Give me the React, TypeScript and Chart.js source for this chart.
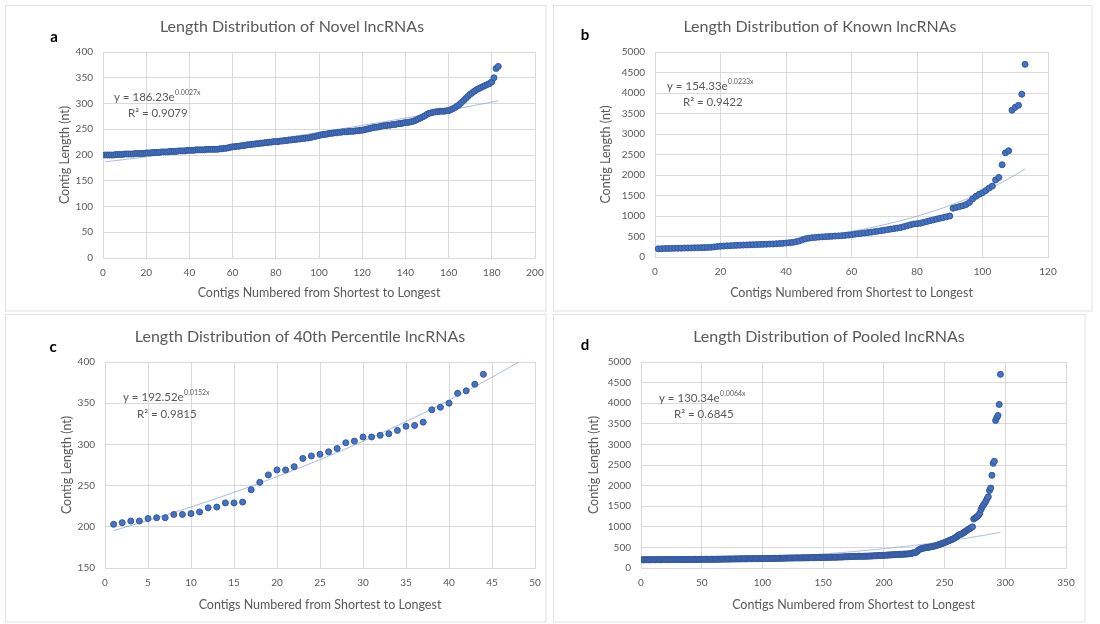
import React, { useEffect, useRef } from "react";
import { Chart, registerables } from "chart.js";
Chart.register(...registerables);

// ---------------- data ----------------
const novelLengths = [
  200, 200, 200, 200, 200, 201, 201, 201, 201, 202,
  202, 202, 202, 202, 203, 203, 203, 203, 203, 204,
  204, 204, 205, 205, 205, 205, 206, 206, 206, 206,
  207, 207, 207, 207, 208, 208, 208, 208, 209, 209,
  209, 209, 210, 210, 210, 210, 210, 211, 211, 211,
  211, 211, 211, 212, 212, 213, 213, 214, 215, 216,
  216, 217, 217, 218, 218, 219, 220, 220, 221, 221,
  222, 222, 223, 223, 224, 224, 225, 225, 226, 226,
  226, 227, 227, 228, 228, 229, 229, 230, 230, 231,
  231, 232, 232, 233, 233, 234, 235, 236, 237, 238,
  239, 240, 240, 241, 242, 242, 243, 243, 244, 244,
  245, 245, 245, 246, 246, 246, 247, 247, 248, 248,
  249, 250, 251, 252, 253, 254, 254, 255, 256, 257,
  257, 258, 258, 259, 259, 260, 261, 261, 262, 263,
  263, 264, 265, 266, 268, 270, 272, 274, 276, 279,
  281, 282, 283, 284, 284, 285, 285, 285, 286, 286,
  288, 290, 292, 295, 298, 302, 306, 310, 314, 318,
  321, 324, 327, 329, 331, 333, 335, 337, 339, 342,
  350, 368, 372,
];

const knownLengths = [
  200, 203, 206, 208, 210, 212, 214, 216, 218, 220,
  222, 224, 226, 228, 230, 232, 236, 245, 255, 262,
  268, 272, 276, 280, 284, 288, 291, 294, 297, 300,
  303, 306, 309, 312, 315, 318, 322, 327, 333, 340,
  348, 356, 370, 390, 420, 445, 460, 470, 478, 485,
  490, 495, 500, 505, 510, 515, 520, 527, 535, 543,
  555, 565, 575, 585, 595, 606, 618, 630, 642, 655,
  667, 680, 692, 705, 720, 740, 760, 785, 805, 812,
  825, 845, 865, 885, 905, 925, 945, 960, 980, 1000,
  1190, 1210, 1230, 1250, 1280, 1330, 1420, 1480, 1530, 1570,
  1620, 1680, 1730, 1880, 1940, 2250, 2540, 2590, 3580, 3650,
  3700, 3970, 4700,
];

const percentile40Lengths = [
  203, 205, 207, 207, 210, 211, 211, 215, 215, 216,
  218, 223, 224, 229, 229, 230, 245, 254, 263, 269,
  269, 273, 283, 286, 288, 291, 295, 302, 304, 309,
  309, 311, 313, 317, 322, 323, 327, 342, 345, 350,
  362, 365, 373, 385,
];

// pooled = novel + known, numbered from shortest to longest
const pooledLengths = [...novelLengths, ...knownLengths].sort((a, b) => a - b);

const panelLetters = ["a", "b", "c", "d"];
const panelTitles = [
  "Length Distribution of Novel lncRNAs",
  "Length Distribution of Known lncRNAs",
  "Length Distribution of 40th Percentile lncRNAs",
  "Length Distribution of Pooled lncRNAs",
];
const xAxisTitle = "Contigs Numbered from Shortest to Longest";
const yAxisTitle = "Contig Length (nt)";

// exponential trendlines shown in the chart: y = A e^(k x)
const trendCoefficients = [186.23, 154.33, 192.52, 130.34];
const trendRates = [0.0027, 0.0233, 0.0152, 0.0064];
const trendCoefLabels = ["186.23", "154.33", "192.52", "130.34"];
const trendRateLabels = ["0.0027x", "0.0233x", "0.0152x", "0.0064x"];
const rSquaredLabels = ["0.9079", "0.9422", "0.9815", "0.6845"];
const trendEnds = [183, 113, 50, 296];

const xMins = [0, 0, 0, 0];
const xMaxs = [200, 120, 50, 350];
const xSteps = [20, 20, 5, 50];
const yMins = [0, 0, 150, 0];
const yMaxs = [400, 5000, 400, 5000];
const ySteps = [50, 500, 50, 500];

const seriesList = [novelLengths, knownLengths, percentile40Lengths, pooledLengths];

// ---------------- layout ----------------
const W = 550;
const H = 312;
const FONT = "Lato, 'Open Sans', sans-serif";
const GRAY = "#595959";
const GRID = "#d9d9d9";
const FRAME = "#e2e2e2";

type Layout = {
  left: number; top: number; right: number; bottom: number;
  ox: number; oy: number;
  titleX: number; titleY: number;
  letterX: number; letterY: number;
  eqX: number; eqY: number; r2X: number; r2Y: number;
  yTitleX: number;
  frame: [number, number, number, number];
};

const layouts: Layout[] = [
  { ox: 0, oy: 0, left: 103, right: 535, top: 52, bottom: 258, titleX: 292, titleY: 27, letterX: 54, letterY: 37, eqX: 114, eqY: 97, r2X: 128, r2Y: 113, yTitleX: 65, frame: [5.5, 5.5, 546, 311] },
  { ox: 550, oy: 0, left: 105, right: 498, top: 52, bottom: 257, titleX: 270, titleY: 27, letterX: 35, letterY: 35, eqX: 117, eqY: 86, r2X: 133, r2Y: 102, yTitleX: 56, frame: [3.5, 5.5, 542, 311] },
  { ox: 0, oy: 312, left: 105, right: 535, top: 50, bottom: 256, titleX: 300, titleY: 25, letterX: 53, letterY: 35, eqX: 123, eqY: 85, r2X: 137, r2Y: 102, yTitleX: 67, frame: [5.5, 2.5, 546, 310] },
  { ox: 550, oy: 312, left: 91, right: 516, top: 50, bottom: 256, titleX: 279, titleY: 25, letterX: 35, letterY: 33, eqX: 109, eqY: 86, r2X: 124, r2Y: 102, yTitleX: 44, frame: [3.5, 2.5, 535, 310] },
];

function makeChart(canvas: HTMLCanvasElement, i: number) {
  const lay = layouts[i];
  const values = seriesList[i];
  const points = values.map((v, idx) => ({ x: idx + 1, y: v }));
  const trend: { x: number; y: number }[] = [];
  for (let x = 1; x <= trendEnds[i]; x += 1) {
    trend.push({ x, y: trendCoefficients[i] * Math.exp(trendRates[i] * x) });
  }
  const tickFont = { family: FONT, size: 10 };
  const axisTitleSize = 12.5;
  const axisTitleFont = { family: FONT, size: axisTitleSize };
  const lh = axisTitleSize * 1.2;

  const extras = {
    id: "extras" + i,
    beforeDraw(chart: any) {
      const ctx = chart.ctx;
      ctx.save();
      ctx.fillStyle = "#ffffff";
      ctx.fillRect(0, 0, W, H);
      ctx.strokeStyle = FRAME;
      ctx.lineWidth = 1;
      const [fx0, fy0, fx1, fy1] = lay.frame;
      ctx.strokeRect(fx0, fy0, fx1 - fx0, fy1 - fy0);
      ctx.restore();
    },
    afterDraw(chart: any) {
      const ctx = chart.ctx;
      ctx.save();
      // panel letter
      ctx.fillStyle = "#000";
      ctx.font = `bold 15px ${FONT}`;
      ctx.textAlign = "center";
      ctx.textBaseline = "middle";
      ctx.fillText(panelLetters[i], lay.letterX, lay.letterY);
      // title
      ctx.fillStyle = GRAY;
      ctx.font = `16px ${FONT}`;
      ctx.fillText(panelTitles[i], lay.titleX, lay.titleY);
      // equation
      ctx.textAlign = "left";
      ctx.font = `11.5px ${FONT}`;
      const base = `y = ${trendCoefLabels[i]}e`;
      ctx.fillText(base, lay.eqX, lay.eqY);
      const bw = ctx.measureText(base).width;
      ctx.font = `7px ${FONT}`;
      ctx.fillText(trendRateLabels[i], lay.eqX + bw + 0.5, lay.eqY - 4);
      ctx.font = `11.5px ${FONT}`;
      ctx.fillText(`R\u00B2 = ${rSquaredLabels[i]}`, lay.r2X, lay.r2Y);
      ctx.restore();
    },
  };

  return new Chart(canvas, {
    type: "scatter",
    data: {
      datasets: [
        {
          type: "line",
          data: trend,
          borderColor: "rgba(130,160,210,0.7)",
          borderWidth: 1,
          pointRadius: 0,
          fill: false,
          tension: 0,
          order: 2,
        } as any,
        {
          data: points,
          backgroundColor: "#4472C4",
          borderColor: "#34589c",
          borderWidth: 1,
          pointRadius: 3,
          order: 1,
        },
      ],
    },
    options: {
      animation: false,
      responsive: false,
      devicePixelRatio: 1,
      layout: { padding: { left: 0, top: lay.top, right: W - lay.right, bottom: 0 } },
      plugins: {
        legend: { display: false },
        tooltip: { enabled: false },
        title: { display: false },
      },
      scales: {
        x: {
          type: "linear",
          min: xMins[i],
          max: xMaxs[i],
          ticks: { stepSize: xSteps[i], padding: 9, color: GRAY, font: tickFont, format: { useGrouping: false } },
          grid: { color: GRID, drawTicks: false, lineWidth: 1 },
          border: { color: GRID },
          title: {
            display: true,
            text: xAxisTitle,
            color: GRAY,
            font: axisTitleFont,
            padding: { top: 0, bottom: 19 - lh / 2 },
          },
          afterFit: (s: any) => {
            s.height = H - lay.bottom;
            s.paddingLeft = 0;
            s.paddingRight = 0;
          },
        },
        y: {
          type: "linear",
          min: yMins[i],
          max: yMaxs[i],
          ticks: { stepSize: ySteps[i], padding: 10, color: GRAY, font: tickFont, format: { useGrouping: false } },
          grid: { color: GRID, drawTicks: false, lineWidth: 1 },
          border: { display: false },
          title: {
            display: true,
            text: yAxisTitle,
            color: GRAY,
            font: axisTitleFont,
            padding: { top: lay.yTitleX - lh / 2, bottom: 0 },
          },
          afterFit: (s: any) => {
            s.width = lay.left;
            s.paddingTop = 0;
            s.paddingBottom = 0;
          },
        },
      },
    } as any,
    plugins: [extras],
  });
}

function Panel({ index }: { index: number }) {
  const ref = useRef<HTMLCanvasElement | null>(null);
  useEffect(() => {
    if (!ref.current) return;
    const chart = makeChart(ref.current, index);
    return () => chart.destroy();
  }, [index]);
  const lay = layouts[index];
  return (
    <canvas
      ref={ref}
      width={W}
      height={H}
      style={{ position: "absolute", left: lay.ox, top: lay.oy, width: W, height: H }}
    />
  );
}

export default function App() {
  return (
    <div style={{ position: "absolute", left: 0, top: 0, width: 1100, height: 624, background: "#fff", overflow: "hidden" }}>
      {[0, 1, 2, 3].map((i) => (
        <Panel key={i} index={i} />
      ))}
    </div>
  );
}
